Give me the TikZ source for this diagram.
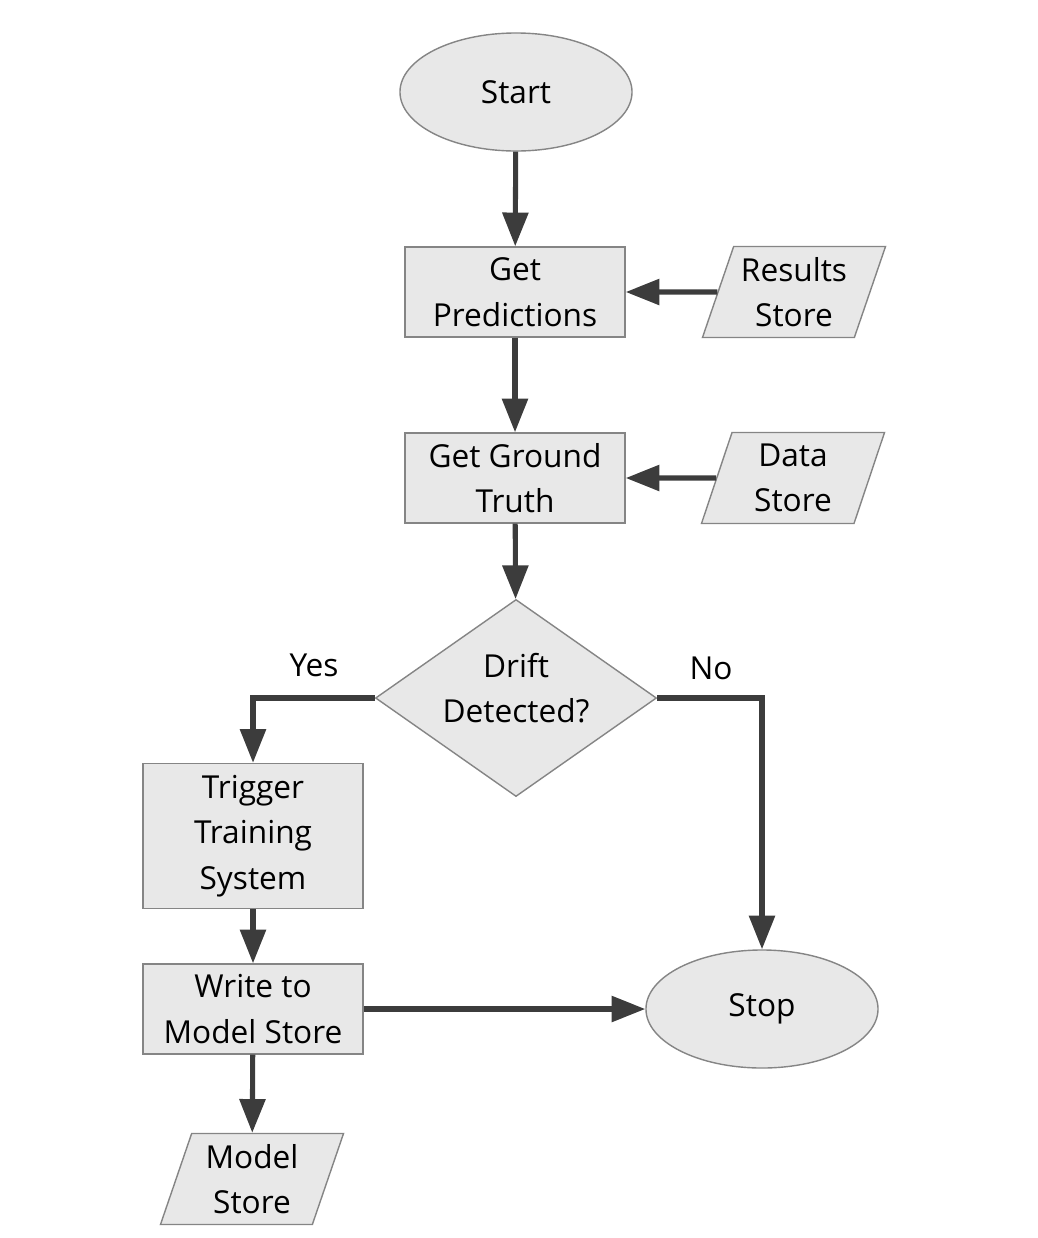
\documentclass[tikz,border=0pt]{standalone}
\usepackage{fontspec}
\setmainfont{Open Sans}
\usetikzlibrary{shapes.geometric,arrows.meta}
\definecolor{boxfill}{HTML}{E8E8E8}
\definecolor{boxline}{HTML}{858585}
\definecolor{arrowgray}{HTML}{3C3C3C}
\begin{document}
\begin{tikzpicture}
[
x=0.025cm, y=-0.025cm,
font=\fontsize{22.5}{32.5}\selectfont,
flowoval/.style={ellipse, draw=boxline, fill=boxfill, line width=1pt, minimum width=5.8cm, minimum height=2.95cm, inner sep=0},
flowbox/.style={rectangle, draw=boxline, fill=boxfill, line width=1pt, minimum width=5.5cm, minimum height=2.25cm, align=center, inner sep=0},
flowdiamond/.style={diamond, draw=boxline, fill=boxfill, line width=1pt, minimum width=7.025cm, minimum height=4.925cm, aspect=1.43, inner sep=0},
flowdata/.style={trapezium, trapezium left angle=66, trapezium right angle=114, trapezium stretches body, draw=boxline, fill=boxfill, line width=1pt, minimum width=4.575cm, minimum height=2.275cm, align=center, inner sep=0},
flowarrow/.style={draw=arrowgray, line width=3.6pt, -{Triangle[length=24pt, width=18pt]}}
]
\useasboundingbox (0,0) rectangle (1038,1238);
%Nodes
\node[flowoval] at(516,92)		(start) {Start};
\node[flowbox] at(515,292)		(pred) {Get\\Predictions};
\node[flowdata] at(794,292)		(results) {Results\\Store};
\node[flowbox] at(515,478)		(truth) {Get Ground\\Truth};
\node[flowdata] at(793,478)		(data) {Data\\Store};
\node[flowdiamond, label={[align=center, yshift=0.25cm]center:Drift\\Detected?}] at(516,698)		(drift) {};
\node[flowbox, minimum height=3.625cm] at(253,836)		(trigger) {Trigger\\Training\\System};
\node[flowbox] at(253,1009)		(write) {Write to\\Model Store};
\node[flowoval] at(762,1009)		(stop) {Stop};
\node[flowdata] at(252,1179)		(model) {Model\\Store};
\node[]		(yes) at(314,665) {Yes};
\node[]		(no) at(711,668) {No};

%Arrows
\draw[flowarrow] (start) -- (pred);
\draw[flowarrow] (results) -- (pred);
\draw[flowarrow] (pred) -- (truth);
\draw[flowarrow] (data) -- (truth);
\draw[flowarrow] (truth) -- (drift);
\draw[flowarrow] (drift.west) -| (trigger.north);
\draw[flowarrow] (drift.east) -| (stop.north);
\draw[flowarrow] (trigger) -- (write);
\draw[flowarrow] (write) -- (stop);
\draw[flowarrow] (write) -- (model);

\end{tikzpicture}
\end{document}
